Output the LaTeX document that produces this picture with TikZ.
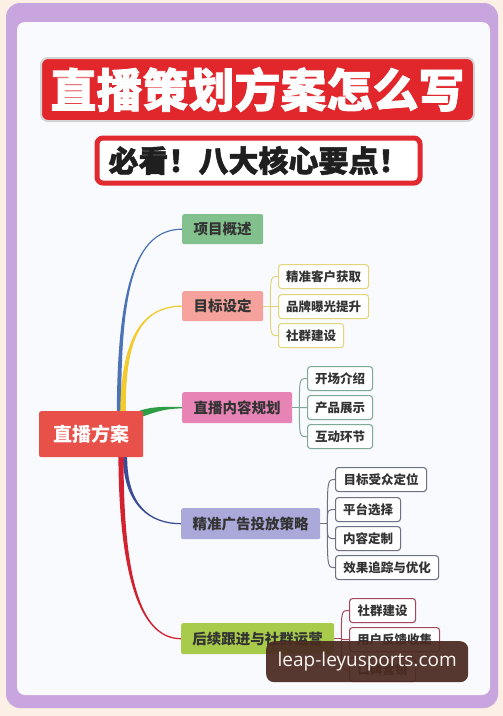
\documentclass[tikz,border=0pt]{standalone}
\usepackage{fontspec}
\setmainfont{Noto Sans CJK SC}
\newfontfamily\heavy{Noto Sans CJK SC}[BoldFeatures={FakeBold=1.6}]
\newfontfamily\wmfont{Open Sans}
\usetikzlibrary{calc}
\pgfdeclarelayer{back}
\pgfdeclarelayer{conn}
\pgfsetlayers{back,conn,main}
\definecolor{peach}{HTML}{FBEFE6}
\definecolor{frame}{HTML}{C9A5DF}
\definecolor{inner}{HTML}{F8FAFD}
\definecolor{titlered}{HTML}{E1262C}
\definecolor{titleedge}{HTML}{D5D5D5}
\definecolor{subred}{HTML}{E02A30}
\definecolor{rootred}{HTML}{E8504A}
\definecolor{txtdark}{HTML}{333333}
\definecolor{gA}{HTML}{82C08E}
\definecolor{gB}{HTML}{F4A29B}
\definecolor{gC}{HTML}{E783B5}
\definecolor{gD}{HTML}{ABA9DA}
\definecolor{gE}{HTML}{A9CB4B}
\definecolor{lB}{HTML}{E1D77A}
\definecolor{lC}{HTML}{7EA996}
\definecolor{lD}{HTML}{6D7282}
\definecolor{lE}{HTML}{A5475A}
\definecolor{cblue}{HTML}{4C73B5}
\definecolor{cyellow}{HTML}{F2CB2E}
\definecolor{cgreen}{HTML}{2E9E46}
\definecolor{cnavy}{HTML}{3C4C94}
\definecolor{cred}{HTML}{D3222F}
\definecolor{wmbrown}{HTML}{4B2A22}
\tikzset{
 brbox/.style={rectangle, anchor=north west, inner sep=0pt, rounded corners=2pt, text=txtdark, font=\bfseries\fontsize{14.5}{16}\selectfont},
 leafbox/.style={rectangle, anchor=north west, inner sep=0pt, rounded corners=3pt, fill=white, line width=1.1pt, text=txtdark, font=\bfseries\fontsize{12.5}{14}\selectfont, minimum height=24pt},
 leafcon/.style={line width=1pt},
}
\begin{document}
\begin{tikzpicture}[x=1pt,y=-1pt]
\useasboundingbox (0,0) rectangle (503,716);
\begin{pgfonlayer}{back}
\fill[peach] (0,0) rectangle (503,716);
\fill[frame, rounded corners=14pt] (6,3) rectangle (498,708);
\fill[inner, rounded corners=8pt] (17,22) rectangle (490,695);
\end{pgfonlayer}

% title
\node[rectangle, anchor=north west, inner sep=0pt, fill=titlered, draw=titleedge, line width=2pt, rounded corners=7pt, text=white, minimum width=433pt, minimum height=63pt, font=\heavy\bfseries\fontsize{46}{46}\selectfont] (title) at (40,57) {直播策划方案怎么写};
\node[rectangle, anchor=north west, inner sep=0pt, fill=white, draw=subred, line width=5pt, rounded corners=6pt, text=black!88, minimum width=323pt, minimum height=45pt, font=\heavy\bfseries\fontsize{30}{30}\selectfont] (sub) at (94.5,135.5) {必看！八大核心要点！};

% root
\node[rectangle, anchor=north west, inner sep=0pt, fill=rootred, rounded corners=2pt, text=white, minimum width=104pt, minimum height=46pt, font=\bfseries\fontsize{19}{19}\selectfont] (root) at (39,411) {直播方案};

% branches
\node[brbox, fill=gA, minimum width=81pt, minimum height=30pt] (b1) at (182,214) {项目概述};
\node[brbox, fill=gB, minimum width=81pt, minimum height=30pt] (b2) at (182,291) {目标设定};
\node[brbox, fill=gC, minimum width=110pt, minimum height=31pt] (b3) at (182,392) {直播内容规划};
\node[brbox, fill=gD, minimum width=139pt, minimum height=31pt] (b4) at (181,508) {精准广告投放策略};
\node[brbox, fill=gE, minimum width=153pt, minimum height=31pt] (b5) at (181,623) {后续跟进与社群运营};

% leaves
\node[leafbox, draw=lB, minimum width=90pt] (l21) at (278,264) {精准客户获取};
\node[leafbox, draw=lB, minimum width=90pt] (l22) at (278,294) {品牌曝光提升};
\node[leafbox, draw=lB, minimum width=65pt] (l23) at (278,323) {社群建设};
\node[leafbox, draw=lC, minimum width=65pt] (l31) at (307,366) {开场介绍};
\node[leafbox, draw=lC, minimum width=65pt] (l32) at (307,395) {产品展示};
\node[leafbox, draw=lC, minimum width=65pt] (l33) at (307,424) {互动环节};
\node[leafbox, draw=lD, minimum width=91pt] (l41) at (335,467) {目标受众定位};
\node[leafbox, draw=lD, minimum width=65pt] (l42) at (335,497) {平台选择};
\node[leafbox, draw=lD, minimum width=65pt] (l43) at (335,526) {内容定制};
\node[leafbox, draw=lD, minimum width=103pt] (l44) at (335,555) {效果追踪与优化};
\node[leafbox, draw=lE, minimum width=66pt] (l51) at (349,598) {社群建设};
\node[leafbox, draw=lE, minimum width=90pt] (l52) at (349,627) {用户反馈收集};
\node[leafbox, draw=lE, minimum width=66pt] (l53) at (349,657) {口碑营销};

% watermark
\node[rectangle, anchor=north west, inner sep=0pt, fill=wmbrown, fill opacity=0.93, text opacity=1, rounded corners=8pt, text=white!93!brown, minimum width=202pt, minimum height=41pt, font=\wmfont\fontsize{19}{19}\selectfont] (wm) at (266,641) {leap-leyusports.com};

\begin{pgfonlayer}{conn}
% main connectors (tapered)
\coordinate (s1) at ($(root.north west)+(80,0)$);
\coordinate (s2) at ($(root.north west)+(84,0)$);
\coordinate (s3) at ($(root.north west)+(103,3)$);
\coordinate (s4) at ($(root.south west)+(86,0)$);
\coordinate (s5) at ($(root.south west)+(82,0)$);
% blue
\fill[cblue] ($(s1)+(-2.2,2)$) .. controls ($(s1)+(-1.6,-120)$) and ($(b1.west)+(-48,-0.6)$) .. ($(b1.west)+(0,-0.6)$) -- ($(b1.west)+(0,0.6)$) .. controls ($(b1.west)+(-48,0.8)$) and ($(s1)+(1.6,-120)$) .. ($(s1)+(2.2,2)$) -- cycle;
% yellow
\fill[cyellow] ($(s2)+(-2.8,2)$) .. controls ($(s2)+(-2,-70)$) and ($(b2.west)+(-42,-0.6)$) .. ($(b2.west)+(0,-0.6)$) -- ($(b2.west)+(0,0.6)$) .. controls ($(b2.west)+(-42,1)$) and ($(s2)+(2,-70)$) .. ($(s2)+(2.8,2)$) -- cycle;
% green
\fill[cgreen] ($(s3)+(-2,-3.5)$) .. controls ($(s3)+(13,-8)$) and ($(b3.west)+(-17,-0.8)$) .. ($(b3.west)+(0,-0.7)$) -- ($(b3.west)+(0,0.7)$) .. controls ($(b3.west)+(-17,0.8)$) and ($(s3)+(13,-2)$) .. ($(s3)+(-2,3.5)$) -- cycle;
% navy
\fill[cnavy] ($(s4)+(-2.2,-2)$) .. controls ($(s4)+(-1.6,48)$) and ($(b4.west)+(-31,0.8)$) .. ($(b4.west)+(0,0.6)$) -- ($(b4.west)+(0,-0.6)$) .. controls ($(b4.west)+(-31,-0.8)$) and ($(s4)+(1.6,48)$) .. ($(s4)+(2.2,-2)$) -- cycle;
% red
\fill[cred] ($(s5)+(-2.6,-2)$) .. controls ($(s5)+(-2,133)$) and ($(b5.west)+(-36,0.9)$) .. ($(b5.west)+(0,0.6)$) -- ($(b5.west)+(0,-0.6)$) .. controls ($(b5.west)+(-36,-0.9)$) and ($(s5)+(2,133)$) .. ($(s5)+(2.6,-2)$) -- cycle;

% leaf connectors
\draw[leafcon, draw=lB] (b2.east) -- ++(7,0) coordinate (j2);
\foreach \c in {l21,l22,l23} \draw[leafcon, draw=lB] (j2) .. controls (j2 |- \c.west) .. (\c.west);
\draw[leafcon, draw=lC] (b3.east) -- ++(7,0) coordinate (j3);
\foreach \c in {l31,l32,l33} \draw[leafcon, draw=lC] (j3) .. controls (j3 |- \c.west) .. (\c.west);
\draw[leafcon, draw=lD] (b4.east) -- ++(7,0) coordinate (j4);
\foreach \c in {l41,l42,l43,l44} \draw[leafcon, draw=lD] (j4) .. controls (j4 |- \c.west) .. (\c.west);
\draw[leafcon, draw=lE] (b5.east) -- ++(7,0) coordinate (j5);
\foreach \c in {l51,l52,l53} \draw[leafcon, draw=lE] (j5) .. controls (j5 |- \c.west) .. (\c.west);
\end{pgfonlayer}
\end{tikzpicture}
\end{document}
